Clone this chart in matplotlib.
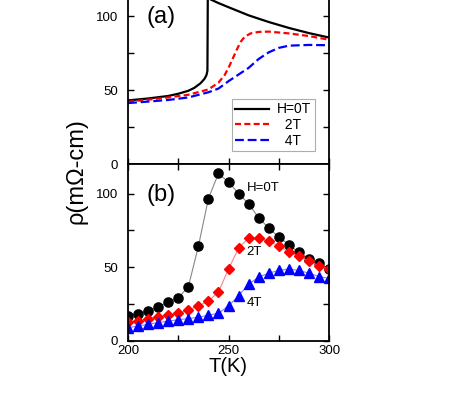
import numpy as np
import matplotlib
matplotlib.use("Agg")
import matplotlib.pyplot as plt
from matplotlib.ticker import MultipleLocator

plt.rcParams['font.family'] = ['Liberation Sans', 'DejaVu Sans']

# panel (a): continuous curves
t_0T = [200, 210, 220, 225, 230, 233, 236, 238, 239, 239.5, 239.7, 241, 245, 250, 260, 270, 280, 290, 300]
r_0T = [43, 44.3, 46, 47.5, 49.5, 51.5, 54.5, 57.5, 60, 63, 116, 111.3, 108.8, 106, 100.5, 96, 92, 88.5, 85.5]
t_2T = [200, 210, 220, 230, 240, 245, 248, 250, 252, 254, 256, 258, 261, 265, 270, 280, 290, 300]
r_2T = [42.1, 43.5, 45, 46.8, 50.4, 55, 60, 65, 71, 77, 82.5, 86, 88.3, 89.3, 89.5, 88.3, 86.5, 84]
t_4T = [200, 210, 220, 230, 240, 245, 250, 255, 260, 265, 270, 275, 280, 290, 300]
r_4T = [41.2, 42.2, 43.3, 45, 48.5, 51, 56, 60.5, 65, 71, 75.5, 78.5, 80, 80.5, 80.3]
legend_labels = ['H=0T', '  2T', '  4T']

# panel (b): measured points
t_pts = np.arange(200, 301, 5)
p_0T = [17, 18.4, 20.4, 23, 26.3, 29.3, 36.7, 64.2, 96.6, 113.6, 107.7,
        100, 93, 83.5, 76.6, 70.5, 65.3, 60, 55.8, 52.8, 48.8]
p_2T = [12.7, 13.6, 14.7, 16.3, 17.5, 18.8, 21, 23.8, 27, 33.3, 48.8,
        63, 69.9, 69.9, 67.6, 64.6, 60.3, 57.3, 54, 51, 48.8]
p_4T = [9, 10.2, 11.3, 12.5, 13.4, 14.5, 15.2, 16.1, 17.5, 18.8, 23.8,
        30.6, 38.6, 43.3, 46, 47.8, 48.8, 47.8, 46, 43.7, 42.4]

fig = plt.figure(figsize=(4.71, 4.09), dpi=100)
ax_a = fig.add_axes([0.2718, 0.599, 0.4268, 0.434])
ax_b = fig.add_axes([0.2718, 0.1663, 0.4268, 0.4327])

for ax in (ax_a, ax_b):
    ax.set_xlim(200, 300)
    ax.set_ylim(0, 120)
    ax.xaxis.set_major_locator(MultipleLocator(50))
    ax.xaxis.set_minor_locator(MultipleLocator(25))
    ax.yaxis.set_major_locator(MultipleLocator(50))
    ax.yaxis.set_minor_locator(MultipleLocator(25))
    ax.tick_params(which='both', direction='in', top=True, right=True,
                   length=4, width=1, labelsize=9.5)
    ax.tick_params(axis='y', pad=7)
    ax.tick_params(axis='x', pad=3)
    for s in ax.spines.values():
        s.set_linewidth(1.3)

ax_a.tick_params(labelbottom=False)

# (a)
ax_a.plot(t_0T, r_0T, color='black', lw=1.6, label=legend_labels[0])
ax_a.plot(t_2T, r_2T, color='red', lw=1.6, dashes=(2.7, 1.5), label=legend_labels[1])
ax_a.plot(t_4T, r_4T, color='blue', lw=1.6, dashes=(4, 1.7), label=legend_labels[2])
ax_a.text(209.3, 99.3, '(a)', fontsize=17, va='center', ha='left')
leg = ax_a.legend(loc='upper left', bbox_to_anchor=(232 / 471, 1 - 99 / 409),
                  bbox_transform=fig.transFigure, fontsize=10, fancybox=False,
                  handlelength=2.4, borderpad=0.25, labelspacing=0.12,
                  handletextpad=0.6, borderaxespad=0)
leg.get_frame().set_edgecolor('#999999')
leg.get_frame().set_linewidth(0.8)

# (b)
ax_b.plot(t_pts, p_0T, color='#888888', lw=0.8, marker='o', ms=6.6,
          mfc='black', mec='black')
ax_b.plot(t_pts, p_2T, color='#ff8080', lw=0.8, marker='D', ms=5,
          mfc='red', mec='red')
ax_b.plot(t_pts, p_4T, color='#8080ff', lw=0.8, marker='^', ms=6.5,
          mfc='blue', mec='blue')
ax_b.text(209.3, 99.3, '(b)', fontsize=17, va='center', ha='left')
ax_b.text(259, 103.4, 'H=0T', fontsize=9.5, va='center', ha='left')
ax_b.text(259, 60, '2T', fontsize=9.5, va='center', ha='left')
ax_b.text(259, 26, '4T', fontsize=9.5, va='center', ha='left')

fig.text(76.7 / 471, 1 - 171.5 / 409, 'ρ(mΩ-cm)', rotation=90,
         fontsize=17, ha='center', va='center')
fig.text(228 / 471, 1 - 367 / 409, 'T(K)', fontsize=14.5,
         ha='center', va='center')

fig.savefig('out.png', dpi=100)
